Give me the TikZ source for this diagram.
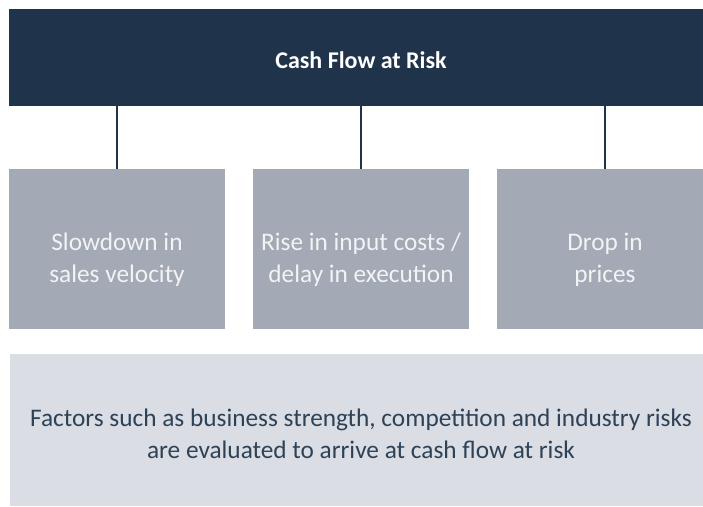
\documentclass[tikz,border=0pt]{standalone}
\usepackage{fontspec}
\setmainfont{Carlito}
\definecolor{navy}{HTML}{1F344A}
\definecolor{boxgray}{HTML}{A3A9B5}
\definecolor{lightgray}{HTML}{DADDE4}
\definecolor{boxtext}{HTML}{F2F3F5}
\definecolor{bodytext}{HTML}{2E4257}
\begin{document}
\begin{tikzpicture}[x=1pt,y=-1pt,
  catbox/.style={fill=boxgray, draw=none, minimum width=216pt, minimum height=160pt, inner sep=0pt},
  catlabel/.style={text=boxtext, align=center, inner sep=0pt, anchor=base, font=\fontsize{25.3}{32}\selectfont},
  link/.style={draw=navy, line width=1.2pt}]
\useasboundingbox (0,0) rectangle (703,506);
\begin{scope}
\clip (0,0) rectangle (703,506);
\node[fill=navy, minimum width=704pt, minimum height=97pt, inner sep=0pt] (title) at (361,57.5) {};
\node[text=white, inner sep=0pt, anchor=base, font=\fontsize{24}{28}\selectfont\bfseries] (titletext) at (361,68) {Cash Flow at Risk};
\node[catbox] (b1) at (117,249) {};
\node[catbox] (b2) at (361,249) {};
\node[catbox] (b3) at (605,249) {};
\node[catlabel] (t1) at (117,282) {Slowdown in\\sales velocity};
\node[catlabel] (t2) at (361,282) {Rise in input costs /\\delay in execution};
\node[catlabel] (t3) at (605,282) {Drop in\\prices};
\node[fill=lightgray, minimum width=703pt, minimum height=152pt, inner sep=0pt] (note) at (361.5,430) {};
\node[text=bodytext, align=center, inner sep=0pt, anchor=base, font=\fontsize{25.3}{32}\selectfont] (notetext) at (361,458)
  {Factors such as business strength, competition and industry risks\\are evaluated to arrive at cash flow at risk};
\draw[link] (title.south -| b1.north) -- (b1.north);
\draw[link] (title.south -| b2.north) -- (b2.north);
\draw[link] (title.south -| b3.north) -- (b3.north);
\end{scope}
\end{tikzpicture}
\end{document}
